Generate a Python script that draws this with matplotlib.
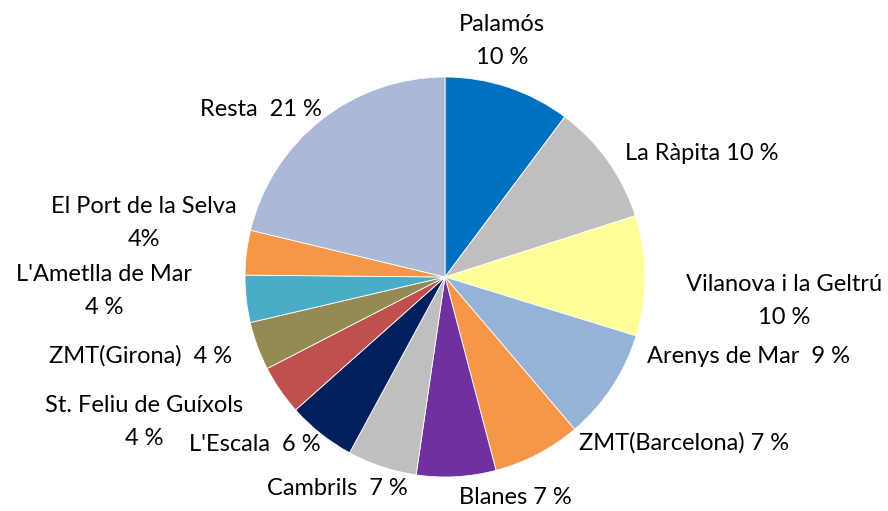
import matplotlib.pyplot as plt

# slice shares (measured from the wedge angles) and the printed labels
ports = ["Palamós", "La Ràpita", "Vilanova i la Geltrú", "Arenys de Mar",
         "ZMT(Barcelona)", "Blanes", "Cambrils", "L'Escala",
         "St. Feliu de Guíxols", "ZMT(Girona)", "L'Ametlla de Mar",
         "El Port de la Selva", "Resta"]
shares = [10.2, 9.8, 9.7, 9.0, 7.1, 6.4, 5.6, 5.5, 4.0, 3.9, 3.8, 3.6, 21.2]
label_text = ["Palamós\n10 %", "La Ràpita 10 %", "Vilanova i la Geltrú\n10 %",
              "Arenys de Mar  9 %", "ZMT(Barcelona) 7 %", "Blanes 7 %",
              "Cambrils  7 %", "L'Escala  6 %", "St. Feliu de Guíxols\n4 %",
              "ZMT(Girona)  4 %", "L'Ametlla de Mar\n4 %",
              "El Port de la Selva\n4%", "Resta  21 %"]

colors = ["#0070C0", "#BFBFBF", "#FFFF99", "#95B3D7", "#F79646", "#7030A0",
          "#BFBFBF", "#002060", "#C0504D", "#948A54", "#4BACC6", "#F79646",
          "#AAB9D7"]

# label centres in pixels of the 888x511 image (layout only)
label_px = [(502, 41), (702, 154), (784, 301), (748, 356), (684, 443),
            (515, 497), (337, 488), (255, 444), (144, 422), (141, 356),
            (104, 291), (144, 223), (261, 110)]
line_gap = 33  # px between lines of a two-line label

W, H = 888, 511
cx, cy, R = 445, 277, 200

fig = plt.figure(figsize=(W / 100, H / 100), dpi=100)
ax = fig.add_axes([0, 0, 1, 1])
ax.pie(shares, colors=colors, startangle=90, counterclock=False, radius=1,
       wedgeprops=dict(edgecolor="white", linewidth=0.6))
ax.set_xlim(-cx / R, (W - cx) / R)
ax.set_ylim(-(H - cy) / R, cy / R)
ax.set_aspect("equal")
ax.axis("off")

for txt, (px, py) in zip(label_text, label_px):
    lines = txt.split("\n")
    top = py - line_gap * (len(lines) - 1) / 2
    for i, line in enumerate(lines):
        ly = top + i * line_gap
        ax.text((px - cx) / R, (cy - ly) / R, line, ha="center", va="center",
                fontsize=17, family=["Lato", "DejaVu Sans"], color="#000000")

fig.savefig("out.png", dpi=100)
